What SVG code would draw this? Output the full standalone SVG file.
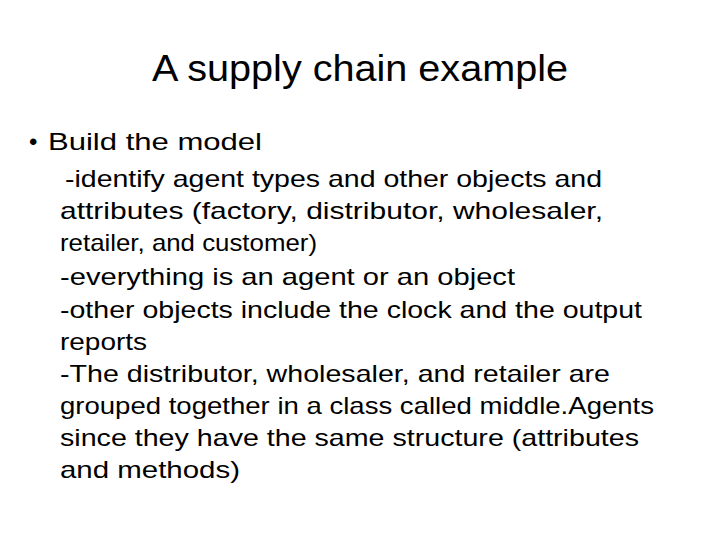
<svg xmlns="http://www.w3.org/2000/svg" width="720" height="540" viewBox="0 0 720 540">
<style>
text{font-family:"Liberation Sans","Open Sans",sans-serif;fill:#000}
.t{font-size:36px}
.b{font-size:24px}
</style>
<rect width="720" height="540" fill="#fff"/>
<text class="t" x="152" y="81" textLength="416" lengthAdjust="spacingAndGlyphs">A supply chain example</text>
<text class="b" x="29" y="150">•</text>
<g class="b">
<text x="48" y="150" textLength="214" lengthAdjust="spacingAndGlyphs">Build the model</text>
<text x="65" y="187" textLength="537" lengthAdjust="spacingAndGlyphs">-identify agent types and other objects and</text>
<text x="60" y="219" textLength="543" lengthAdjust="spacingAndGlyphs">attributes (factory, distributor, wholesaler,</text>
<text x="60" y="251" textLength="257" lengthAdjust="spacingAndGlyphs">retailer, and customer)</text>
<text x="60" y="285" textLength="455" lengthAdjust="spacingAndGlyphs">-everything is an agent or an object</text>
<text x="60" y="318" textLength="582" lengthAdjust="spacingAndGlyphs">-other objects include the clock and the output</text>
<text x="60" y="350" textLength="87" lengthAdjust="spacingAndGlyphs">reports</text>
<text x="60" y="382" textLength="550" lengthAdjust="spacingAndGlyphs">-The distributor, wholesaler, and retailer are</text>
<text x="60" y="414" textLength="594" lengthAdjust="spacingAndGlyphs">grouped together in a class called middle.Agents</text>
<text x="60" y="446" textLength="579" lengthAdjust="spacingAndGlyphs">since they have the same structure (attributes</text>
<text x="60" y="478" textLength="180" lengthAdjust="spacingAndGlyphs">and methods)</text>
</g>
</svg>
